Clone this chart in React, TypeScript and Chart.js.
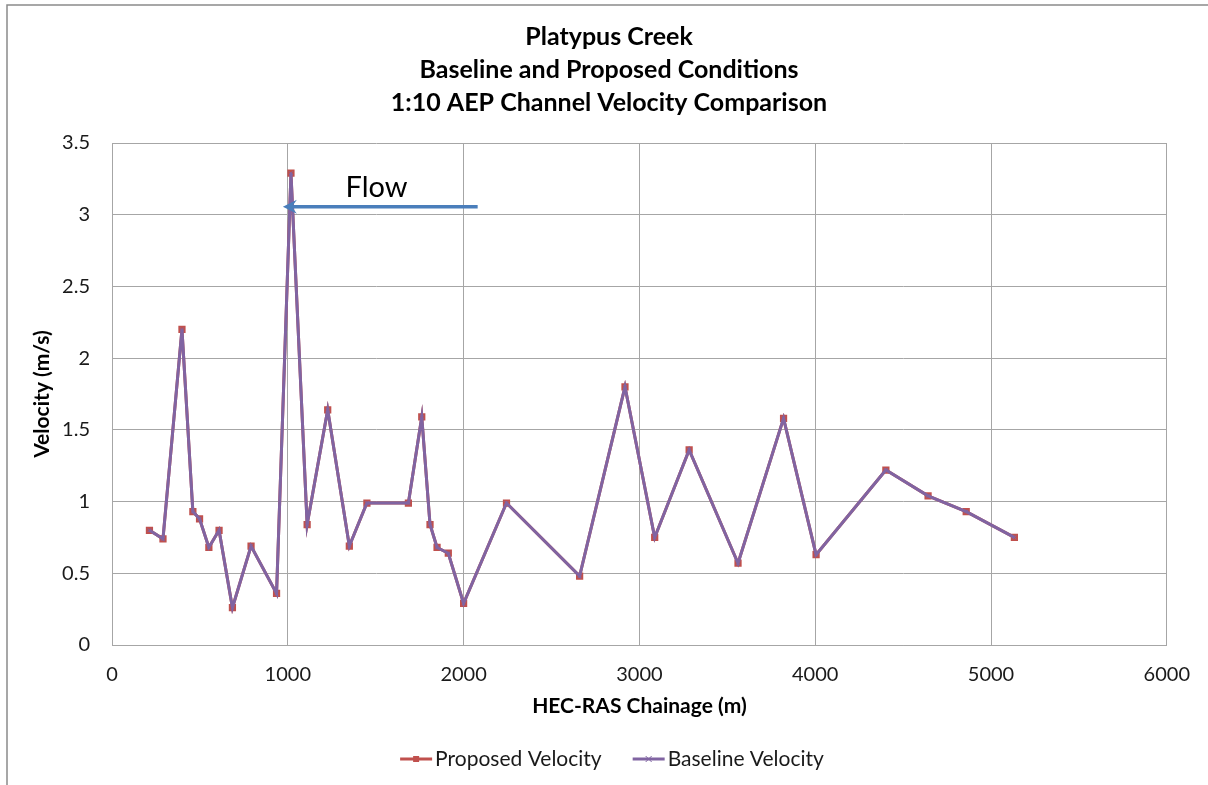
import React, { useEffect, useRef } from "react";
import { Chart, registerables } from "chart.js";

Chart.register(...registerables);

const chainage = [213, 290, 398, 460, 498, 551, 609, 685, 791, 936, 1018, 1110, 1227, 1350, 1450, 1686, 1762, 1809, 1849, 1913, 2000, 2244, 2660, 2918, 3087, 3283, 3561, 3820, 4005, 4402, 4642, 4859, 5133];
const proposedVelocity = [0.8, 0.74, 2.2, 0.93, 0.88, 0.68, 0.8, 0.26, 0.69, 0.36, 3.29, 0.84, 1.64, 0.69, 0.99, 0.99, 1.59, 0.84, 0.68, 0.64, 0.29, 0.99, 0.48, 1.8, 0.75, 1.36, 0.57, 1.58, 0.63, 1.22, 1.04, 0.93, 0.75];
const baselineVelocity = [0.8, 0.74, 2.2, 0.93, 0.88, 0.68, 0.8, 0.26, 0.69, 0.36, 3.29, 0.84, 1.64, 0.69, 0.99, 0.99, 1.59, 0.84, 0.68, 0.64, 0.29, 0.99, 0.48, 1.8, 0.75, 1.36, 0.57, 1.58, 0.63, 1.22, 1.04, 0.93, 0.75];

const titleLines = ["Platypus Creek", "Baseline and Proposed Conditions", "1:10 AEP Channel Velocity Comparison"];
const xTitle = "HEC-RAS Chainage (m)";
const yTitle = "Velocity (m/s)";
const seriesLabels = ["Proposed Velocity", "Baseline Velocity"];

// Flow annotation (data coordinates)
const flowLabel = "Flow";
const flowArrowFrom = 2080;
const flowArrowTo = 972;
const flowArrowY = 3.055;
const flowLabelX = 1505;
const flowLabelY = 3.19;

const RED = "#C0504D";
const PURPLE = "#8064A2";
const FONT = "Lato, 'Open Sans', sans-serif";

const decorPlugin = {
  id: "decor",
  beforeDraw(chart: any) {
    const ctx = chart.ctx;
    ctx.save();
    ctx.fillStyle = "#ffffff";
    ctx.fillRect(0, 0, chart.width, chart.height);
    ctx.strokeStyle = "#8a8a8a";
    ctx.lineWidth = 1.5;
    ctx.beginPath();
    ctx.moveTo(7, chart.height);
    ctx.lineTo(7, 5);
    ctx.lineTo(chart.width, 5);
    ctx.stroke();
    ctx.restore();
  },
  afterDatasetsDraw(chart: any) {
    const ctx = chart.ctx;
    const xs = chart.scales.x;
    const ys = chart.scales.y;
    const x1 = xs.getPixelForValue(flowArrowFrom);
    const x2 = xs.getPixelForValue(flowArrowTo);
    const y = ys.getPixelForValue(flowArrowY);
    ctx.save();
    ctx.strokeStyle = "#4A7EBB";
    ctx.fillStyle = "#4A7EBB";
    ctx.lineWidth = 3.5;
    ctx.beginPath();
    ctx.moveTo(x1, y);
    ctx.lineTo(x2 + 8, y);
    ctx.stroke();
    ctx.beginPath();
    ctx.moveTo(x2, y);
    ctx.lineTo(x2 + 14, y - 7);
    ctx.lineTo(x2 + 9, y);
    ctx.lineTo(x2 + 14, y + 7);
    ctx.closePath();
    ctx.fill();
    ctx.fillStyle = "#000000";
    ctx.font = `29px ${FONT}`;
    ctx.textAlign = "center";
    ctx.textBaseline = "middle";
    ctx.fillText(flowLabel, xs.getPixelForValue(flowLabelX), ys.getPixelForValue(flowLabelY));
    ctx.restore();
  },
  afterDraw(chart: any) {
    const ctx = chart.ctx;
    ctx.save();
    ctx.font = `21px ${FONT}`;
    ctx.textBaseline = "middle";
    const lineLen = 32;
    const gap = 3;
    const itemGap = 31;
    const ds = chart.data.datasets;
    const widths = ds.map((d: any) => lineLen + gap + ctx.measureText(d.label).width);
    const total = widths.reduce((a: number, b: number) => a + b, 0) + itemGap * (ds.length - 1);
    let x = chart.width / 2 + 8 - total / 2;
    const y = 759;
    ds.forEach((d: any, i: number) => {
      ctx.strokeStyle = d.borderColor;
      ctx.lineWidth = 3;
      ctx.beginPath();
      ctx.moveTo(x, y);
      ctx.lineTo(x + lineLen, y);
      ctx.stroke();
      const cx = x + lineLen / 2;
      if (d.pointStyle === "rect") {
        ctx.fillStyle = d.pointBackgroundColor;
        ctx.fillRect(cx - 3, y - 3, 6, 6);
      } else {
        ctx.lineWidth = 1;
        ctx.beginPath();
        ctx.moveTo(cx - 3, y - 3);
        ctx.lineTo(cx + 3, y + 3);
        ctx.moveTo(cx - 3, y + 3);
        ctx.lineTo(cx + 3, y - 3);
        ctx.stroke();
      }
      ctx.fillStyle = "#1a1a1a";
      ctx.textAlign = "left";
      ctx.fillText(d.label, x + lineLen + gap, y);
      x += widths[i] + itemGap;
    });
    ctx.restore();
  },
};

export default function App() {
  const ref = useRef<HTMLCanvasElement | null>(null);
  useEffect(() => {
    if (!ref.current) return;
    const chart = new Chart(ref.current, {
      type: "line",
      data: {
        datasets: [
          {
            label: seriesLabels[0],
            data: chainage.map((c, i) => ({ x: c, y: proposedVelocity[i] })),
            borderColor: RED,
            backgroundColor: RED,
            pointBackgroundColor: RED,
            pointBorderColor: RED,
            pointStyle: "rect",
            pointRadius: 3,
            borderWidth: 3,
            order: 1,
          },
          {
            label: seriesLabels[1],
            data: chainage.map((c, i) => ({ x: c, y: baselineVelocity[i] })),
            borderColor: PURPLE,
            backgroundColor: PURPLE,
            pointBackgroundColor: PURPLE,
            pointBorderColor: PURPLE,
            pointStyle: "crossRot",
            pointRadius: 2.5,
            pointBorderWidth: 1,
            borderWidth: 3,
            order: 0,
          },
        ],
      },
      options: {
        animation: false,
        responsive: false,
        devicePixelRatio: 1,
        layout: { padding: { top: 3, left: 10, right: 0, bottom: 58 } },
        plugins: {
          legend: { display: false },
          tooltip: { enabled: false },
          title: {
            display: true,
            text: titleLines,
            color: "#000000",
            font: { family: FONT, size: 25, weight: "bold", lineHeight: 1.32 },
            padding: { top: 17, bottom: 24 },
          },
        },
        scales: {
          x: {
            type: "linear",
            min: 0,
            max: 6000,
            ticks: {
              stepSize: 1000,
              color: "#1a1a1a",
              font: { family: FONT, size: 20 },
              padding: 18,
              maxRotation: 0,
              callback: (v: any) => String(v),
            },
            grid: { color: "#A6A6A6", lineWidth: 1, drawTicks: false },
            border: { color: "#A6A6A6", width: 1 },
            title: {
              display: true,
              text: xTitle,
              color: "#000000",
              font: { family: FONT, size: 21, weight: "bold" },
              padding: { top: 4, bottom: 8 },
            },
            afterFit: (s: any) => {
              s.height = 82;
            },
          },
          y: {
            type: "linear",
            min: 0,
            max: 3.5,
            ticks: {
              stepSize: 0.5,
              color: "#1a1a1a",
              font: { family: FONT, size: 20 },
              padding: 22,
              callback: (v: any) => String(v),
            },
            grid: { color: "#A6A6A6", lineWidth: 1, drawTicks: false },
            border: { color: "#A6A6A6", width: 1 },
            title: {
              display: true,
              text: yTitle,
              color: "#000000",
              font: { family: FONT, size: 21, weight: "bold" },
              padding: { top: 20, bottom: 20 },
            },
            afterFit: (s: any) => {
              s.width = 102;
            },
          },
          yRight: {
            type: "linear",
            position: "right",
            display: true,
            min: 0,
            max: 3.5,
            grid: { display: false, drawTicks: false },
            border: { display: false },
            ticks: { display: false },
            afterFit: (s: any) => {
              s.width = 38;
            },
          },
        },
      },
      plugins: [decorPlugin],
    });
    return () => chart.destroy();
  }, []);
  return (
    <div style={{ position: "fixed", left: 0, top: 0, width: 1208, height: 785 }}>
      <canvas ref={ref} width={1208} height={785} style={{ display: "block", width: 1208, height: 785 }} />
    </div>
  );
}
